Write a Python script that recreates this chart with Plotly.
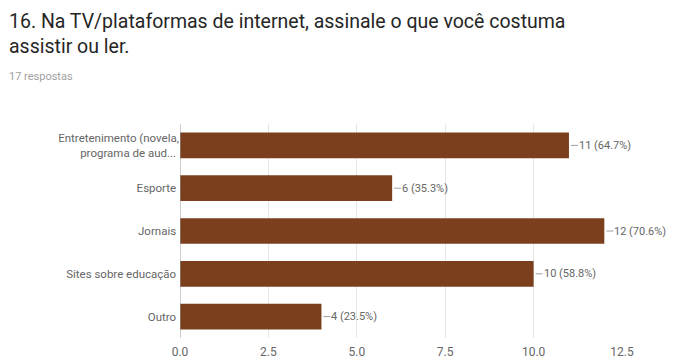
import plotly.graph_objects as go

# respostas da pergunta 16
categorias = ["Entretenimento (novela,<br>programa de aud...", "Esporte", "Jornais",
              "Sites sobre educação", "Outro"]
contagens = [11, 6, 12, 10, 4]
total = 17
ticks = [0, 2.5, 5, 7.5, 10, 12.5]
tick_text = ["0.0", "2.5", "5.0", "7.5", "10.0", "12.5"]

bar_color = "#7b3f1e"
txt_color = "#666666"

# page body adds 8px, so figure coords are screen coords minus 8
W, H = 674, 358
L, R, T, B = 172, 60, 116, 28


def px(x):
    return (x - L) / (W - L - R)


def py(y):
    return (H - B - y) / (H - T - B)


fig = go.Figure(go.Bar(
    x=contagens, y=categorias, orientation="h",
    marker=dict(color=bar_color, line=dict(width=0)),
    showlegend=False, hoverinfo="skip"
))

# labels with a little connector line, like the forms summary
for cat, n in zip(categorias, contagens):
    fig.add_shape(type="line", xref="x", yref="y", xsizemode="pixel",
                  xanchor=n, x0=2, x1=9, y0=cat, y1=cat,
                  line=dict(color="#9e9e9e", width=1))
    fig.add_annotation(x=n, y=cat, xref="x", yref="y", xshift=8,
                       xanchor="left", showarrow=False,
                       text=f"{n} ({n / total * 100:.1f}%)",
                       font=dict(size=11, color=txt_color))

fig.add_annotation(x=px(-1), y=py(13), xref="paper", yref="paper",
                   xanchor="left", yanchor="middle", showarrow=False, align="left",
                   text="16. Na TV/plataformas de internet, assinale o que você costuma",
                   font=dict(size=19.5, color="#262626", family="Roboto"))
fig.add_annotation(x=px(-1), y=py(39), xref="paper", yref="paper",
                   xanchor="left", yanchor="middle", showarrow=False,
                   text="assistir ou ler.",
                   font=dict(size=19.5, color="#262626", family="Roboto"))
fig.add_annotation(x=px(-1), y=py(68), xref="paper", yref="paper",
                   xanchor="left", yanchor="middle", showarrow=False,
                   text="17 respostas",
                   font=dict(size=11, color="#a0a0a0", family="Roboto"))

fig.update_layout(
    width=W, height=H,
    margin=dict(l=L, r=R, t=T, b=B, autoexpand=False),
    paper_bgcolor="white", plot_bgcolor="white",
    font=dict(family="Roboto", size=11.5, color=txt_color),
    bargap=0.4,
    xaxis=dict(range=[0, 12.5], tickvals=ticks, ticktext=tick_text,
               showgrid=True, gridcolor="#e6e6e6", zeroline=False, automargin=False,
               showline=False, ticks="outside", ticklen=3, tickcolor="white",
               tickfont=dict(size=12, color=txt_color)),
    yaxis=dict(autorange="reversed", showgrid=False, zeroline=False, automargin=False,
               showline=False, ticks="", ticksuffix=" ",
               tickfont=dict(size=11.5, color=txt_color)),
)
fig.add_shape(type="line", xref="x", yref="paper", x0=0, x1=0, y0=0, y1=1,
              line=dict(color="#9e9e9e", width=1))

fig.write_html("out.html")
